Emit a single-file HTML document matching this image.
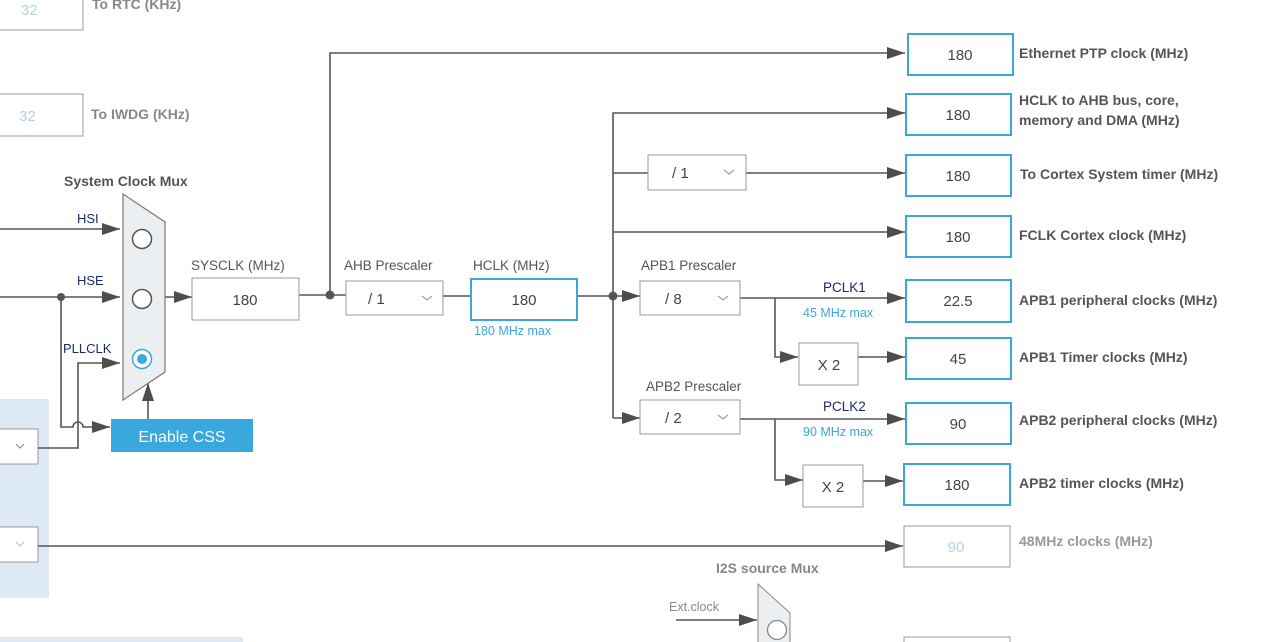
<!DOCTYPE html>
<html><head><meta charset="utf-8"><style>
html,body{margin:0;padding:0;background:#fff;width:1264px;height:642px;overflow:hidden}
svg text{font-family:"Liberation Sans",Arial,sans-serif}
</style></head><body>
<svg width="1264" height="642" viewBox="0 0 1264 642" xmlns="http://www.w3.org/2000/svg">
<defs>
<marker id="ar" viewBox="0 0 18 12" markerWidth="18" markerHeight="12" refX="18" refY="6" orient="auto" markerUnits="userSpaceOnUse"><path d="M0,0 L18,6 L0,12 Z" fill="#4d4d4d"/></marker>
</defs>
<rect x="0" y="399" width="49" height="199" fill="#dde9f5"/>
<rect x="0" y="637" width="243" height="5" fill="#dde9f5"/>
<rect x="-2" y="-12" width="85" height="42" fill="#fff" stroke="#999"/>
<text x="21" y="15" font-size="15" fill="#b7cfe6">32</text>
<text x="92" y="9" font-size="14" font-weight="bold" fill="#888">To RTC (KHz)</text>
<rect x="-2" y="94" width="85" height="42" fill="#fff" stroke="#999"/>
<text x="19" y="121" font-size="15" fill="#b7cfe6">32</text>
<text x="91" y="119" font-size="14" font-weight="bold" fill="#888">To IWDG (KHz)</text>
<rect x="-2" y="429" width="40" height="35" fill="#fff" stroke="#999"/>
<path d="M16,444 l4,4 l4,-4" fill="none" stroke="#888"/>
<rect x="-2" y="527" width="40" height="35" fill="#fff" stroke="#999"/>
<path d="M16,542 l4,4 l4,-4" fill="none" stroke="#bbb"/>
<g stroke="#555" stroke-width="1.6" fill="none">
<line x1="0" y1="229" x2="120" y2="229" marker-end="url(#ar)"/>
<line x1="0" y1="297" x2="120" y2="297" marker-end="url(#ar)"/>
<path d="M38,448 H78 V363 H120" marker-end="url(#ar)"/>
<path d="M61,297 V427 H73 a5,5 0 0 1 10,0 H110" marker-end="url(#ar)"/>
<line x1="148" y1="419" x2="148" y2="383" marker-end="url(#ar)"/>
<line x1="165" y1="297" x2="192" y2="297" marker-end="url(#ar)"/>
<line x1="299" y1="295" x2="346" y2="295"/>
<path d="M330,295 V53 H905" marker-end="url(#ar)"/>
<line x1="443" y1="296" x2="471" y2="296"/>
<line x1="577" y1="296" x2="640" y2="296" marker-end="url(#ar)"/>
<path d="M613,418 V113 H905" marker-end="url(#ar)"/>
<line x1="613" y1="173" x2="648" y2="173"/>
<line x1="746" y1="173" x2="905" y2="173" marker-end="url(#ar)"/>
<line x1="613" y1="232" x2="905" y2="232" marker-end="url(#ar)"/>
<line x1="613" y1="418" x2="640" y2="418" marker-end="url(#ar)"/>
<line x1="740" y1="298" x2="905" y2="298" marker-end="url(#ar)"/>
<path d="M775,298 V357 H798" marker-end="url(#ar)"/>
<line x1="858" y1="357" x2="905" y2="357" marker-end="url(#ar)"/>
<line x1="740" y1="419" x2="905" y2="419" marker-end="url(#ar)"/>
<path d="M775,419 V480 H803" marker-end="url(#ar)"/>
<line x1="863" y1="481" x2="903" y2="481" marker-end="url(#ar)"/>
<line x1="38" y1="546" x2="903" y2="546" marker-end="url(#ar)"/>
<line x1="676" y1="620" x2="757" y2="620" marker-end="url(#ar)"/>
</g>
<g fill="#555"><circle cx="61" cy="297" r="4"/><circle cx="330" cy="295" r="4.5"/><circle cx="613" cy="296" r="4.5"/></g>
<text x="64" y="186" font-size="14" font-weight="bold" fill="#555">System Clock Mux</text>
<path d="M123,194 L165,222 L165,372 L123,400 Z" fill="#eceff2" stroke="#777" stroke-width="1.2"/>
<circle cx="142" cy="239" r="9.5" fill="#fff" stroke="#555" stroke-width="1.5"/>
<circle cx="142" cy="299" r="9.5" fill="#fff" stroke="#555" stroke-width="1.5"/>
<circle cx="142" cy="359" r="9.5" fill="#fff" stroke="#39a8dc" stroke-width="1.5"/>
<circle cx="142" cy="359" r="5" fill="#39a8dc"/>
<text x="77" y="223" font-size="13" fill="#1a2a6c">HSI</text>
<text x="77" y="285" font-size="13" fill="#1a2a6c">HSE</text>
<text x="63" y="353" font-size="13" fill="#1a2a6c">PLLCLK</text>
<rect x="111" y="419" width="142" height="33" fill="#39a8dc"/>
<text x="182" y="442" font-size="16" fill="#fff" text-anchor="middle">Enable CSS</text>
<text x="191" y="270" font-size="13.5" fill="#555">SYSCLK (MHz)</text>
<rect x="192" y="278" width="107" height="42" fill="#fff" stroke="#999"/>
<text x="245" y="305" font-size="15" fill="#444" text-anchor="middle">180</text>
<text x="344" y="270" font-size="13.5" fill="#555">AHB Prescaler</text>
<rect x="346" y="281" width="97" height="34" fill="#fff" stroke="#999"/>
<text x="368" y="304" font-size="15" fill="#444">/ 1</text>
<path d="M422,296 l5,4 l5,-4" fill="none" stroke="#888"/>
<text x="473" y="270" font-size="13.5" fill="#555">HCLK (MHz)</text>
<rect x="471" y="279" width="106" height="41" fill="#fff" stroke="#3aa7d9" stroke-width="2"/>
<text x="524" y="305" font-size="15" fill="#444" text-anchor="middle">180</text>
<text x="474" y="335" font-size="12.5" fill="#3aa7d9">180 MHz max</text>
<rect x="648" y="155" width="98" height="35" fill="#fff" stroke="#999"/>
<text x="672" y="178" font-size="15" fill="#444">/ 1</text>
<path d="M724,170 l5,4 l5,-4" fill="none" stroke="#888"/>
<text x="641" y="270" font-size="13.5" fill="#555">APB1 Prescaler</text>
<rect x="640" y="281" width="100" height="34" fill="#fff" stroke="#999"/>
<text x="665" y="304" font-size="15" fill="#444">/ 8</text>
<path d="M718,296 l5,4 l5,-4" fill="none" stroke="#888"/>
<text x="646" y="391" font-size="13.5" fill="#555">APB2 Prescaler</text>
<rect x="640" y="400" width="100" height="34" fill="#fff" stroke="#999"/>
<text x="665" y="423" font-size="15" fill="#444">/ 2</text>
<path d="M718,415 l5,4 l5,-4" fill="none" stroke="#888"/>
<text x="823" y="292" font-size="13.5" fill="#1a2a6c">PCLK1</text>
<text x="803" y="317" font-size="12.5" fill="#3aa7d9">45 MHz max</text>
<text x="823" y="411" font-size="13.5" fill="#1a2a6c">PCLK2</text>
<text x="803" y="436" font-size="12.5" fill="#3aa7d9">90 MHz max</text>
<rect x="799" y="343" width="59" height="42" fill="#fff" stroke="#999"/>
<text x="829" y="370" font-size="15" fill="#444" text-anchor="middle">X 2</text>
<rect x="803" y="465" width="60" height="42" fill="#fff" stroke="#999"/>
<text x="833" y="492" font-size="15" fill="#444" text-anchor="middle">X 2</text>
<g fill="#fff" stroke="#3aa7d9" stroke-width="2">
<rect x="908" y="34" width="105" height="41"/>
<rect x="906" y="94" width="105" height="41"/>
<rect x="906" y="155" width="105" height="41"/>
<rect x="906" y="216" width="105" height="41"/>
<rect x="906" y="280" width="105" height="42"/>
<rect x="906" y="338" width="105" height="41"/>
<rect x="906" y="403" width="105" height="41"/>
<rect x="904" y="464" width="106" height="41"/>
</g>
<rect x="904" y="526" width="106" height="41" fill="#fff" stroke="#999"/>
<rect x="904" y="637" width="106" height="10" fill="#fff" stroke="#999"/>
<g font-size="15" fill="#444" text-anchor="middle">
<text x="960" y="60">180</text><text x="958" y="120">180</text><text x="958" y="181">180</text>
<text x="958" y="242">180</text><text x="958" y="306">22.5</text><text x="958" y="364">45</text>
<text x="958" y="429">90</text><text x="957" y="490">180</text>
<text x="956" y="552" fill="#b7cfe6">90</text>
</g>
<g font-size="14" font-weight="bold" fill="#555">
<text x="1019" y="58">Ethernet PTP clock (MHz)</text>
<text x="1019" y="105">HCLK to AHB bus, core,</text>
<text x="1019" y="125">memory and DMA (MHz)</text>
<text x="1020" y="179">To Cortex System timer (MHz)</text>
<text x="1019" y="240">FCLK Cortex clock (MHz)</text>
<text x="1019" y="305">APB1 peripheral clocks (MHz)</text>
<text x="1019" y="362">APB1 Timer clocks (MHz)</text>
<text x="1019" y="425">APB2 peripheral clocks (MHz)</text>
<text x="1019" y="488">APB2 timer clocks (MHz)</text>
<text x="1019" y="546" fill="#999">48MHz clocks (MHz)</text>
<text x="716" y="573" fill="#888">I2S source Mux</text>
</g>
<path d="M758,584 L790,613 L790,650 L758,650 Z" fill="#eceff2" stroke="#888"/>
<circle cx="777" cy="630" r="9.5" fill="#fff" stroke="#888" stroke-width="1.3"/>
<text x="669" y="611" font-size="12.5" fill="#888">Ext.clock</text>
</svg>
</body></html>
